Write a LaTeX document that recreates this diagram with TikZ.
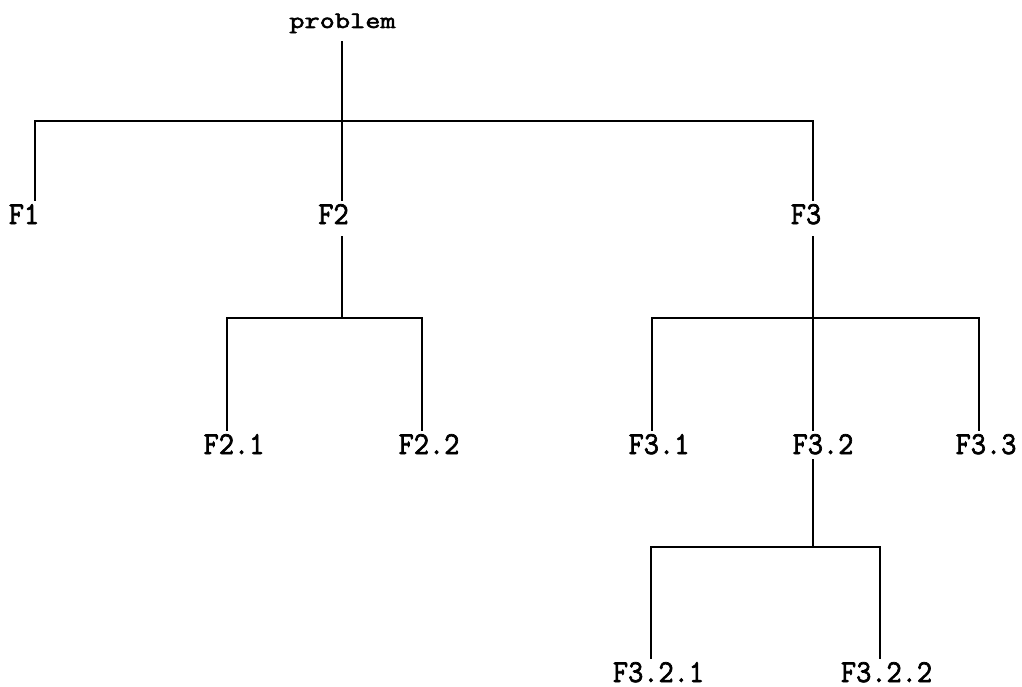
\documentclass[tikz,border=0pt]{standalone}
\usepackage{fontspec}
\newfontfamily\lblff{Latin Modern Mono}[FakeBold=2.2]
\newcommand\lblfont{\lblff\fontsize{29.5}{30}\selectfont}
\newcommand\tall[1]{\scalebox{1}[1.08]{#1}}
\tikzset{
  lbl/.style={inner sep=0pt, outer sep=0pt, anchor=base, font=\lblfont},
  link/.style={line width=1.8pt, line cap=rect}
}
\begin{document}
\begin{tikzpicture}[x=1pt,y=-1pt]
\useasboundingbox[fill=white] (0,0) rectangle (1022,687);
% labels
\node[lbl] (root) at (342.5,28) {\scalebox{1}[0.8]{problem}};
\node[lbl] (F1) at (24,224) {\tall{F1}};
\node[lbl] (F2) at (333.5,224) {\tall{F2}};
\node[lbl] (F3) at (806,224) {\tall{F3}};
\node[lbl] (F21) at (234,454) {\tall{F2.1}};
\node[lbl] (F22) at (429,454) {\tall{F2.2}};
\node[lbl] (F31) at (659,454) {\tall{F3.1}};
\node[lbl] (F32) at (823,454) {\tall{F3.2}};
\node[lbl] (F33) at (986,454) {\tall{F3.3}};
\node[lbl] (F321) at (658.5,682) {\tall{F3.2.1}};
\node[lbl] (F322) at (886.5,682) {\tall{F3.2.2}};
% junctions
\coordinate (j0) at (342,121);
\coordinate (h0l) at (35,121);
\coordinate (h0r) at (813,121);
\coordinate (j2) at (342,318);
\coordinate (h2l) at (227,318);
\coordinate (h2r) at (422,318);
\coordinate (j3) at (813,318);
\coordinate (h3l) at (652,318);
\coordinate (h3r) at (979,318);
\coordinate (j32) at (813,547);
\coordinate (h32l) at (651,547);
\coordinate (h32r) at (880,547);
% level 1
\draw[link] ([yshift=-14pt]root.base -| j0) -- (j0);
\draw[link] (h0l) -- (h0r);
\draw[link] (h0l) -- ([yshift=24pt]F1.base -| h0l);
\draw[link] (j0) -- ([yshift=24pt]F2.base -| j0);
\draw[link] (h0r) -- ([yshift=24pt]F3.base -| h0r);
% F2 subtree
\draw[link] ([yshift=-13pt]F2.base -| j2) -- (j2);
\draw[link] (h2l) -- (h2r);
\draw[link] (h2l) -- ([yshift=24pt]F21.base -| h2l);
\draw[link] (h2r) -- ([yshift=24pt]F22.base -| h2r);
% F3 subtree
\draw[link] ([yshift=-13pt]F3.base -| j3) -- (j3);
\draw[link] (h3l) -- (h3r);
\draw[link] (h3l) -- ([yshift=24pt]F31.base -| h3l);
\draw[link] (j3) -- ([yshift=24pt]F32.base -| j3);
\draw[link] (h3r) -- ([yshift=24pt]F33.base -| h3r);
% F3.2 subtree
\draw[link] ([yshift=-6pt]F32.base -| j32) -- (j32);
\draw[link] (h32l) -- (h32r);
\draw[link] (h32l) -- ([yshift=24pt]F321.base -| h32l);
\draw[link] (h32r) -- ([yshift=24pt]F322.base -| h32r);
\end{tikzpicture}
\end{document}
